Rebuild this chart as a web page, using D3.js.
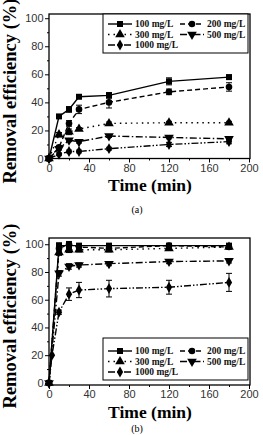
<!DOCTYPE html>
<html><head><meta charset="utf-8">
<script src="https://cdn.jsdelivr.net/npm/d3@7"></script>
<style>body{margin:0;background:#fff}svg{display:block}</style>
</head><body>
<script>
const seriesNames = ["100 mg/L","200 mg/L","300 mg/L","500 mg/L","1000 mg/L"];
const timesA = [0,10,20,30,60,120,180];
const valuesA = [
  [0,30,35,44,45,55,58],
  [0,8,25,35,40,47.5,51],
  [0,17,19,21,25,25.5,25.5],
  [0,7,13,12,16,15,14],
  [0,3,5,5,7,10,12]
];
const errorsA = [
  [0,1,2,1,2,2.5,1.5],
  [0,1,2,3,4,2,3],
  [0,1.5,2,1,1,1,1],
  [0,1,1,1,1,1,1],
  [0,1,1,1,1,1.5,1.5]
];
const timesB = [
  [0,10,20,30,60,120,180],
  [0,10,20,30,60,120,180],
  [0,10,20,30,60,120,180],
  [0,10,20,30,60,120,180],
  [0,3,10,20,30,60,120,180]
];
const valuesB = [
  [0,99,99,99,99,99,99],
  [0,97,100,98,97,99,98],
  [0,94,96,96,96,97,98],
  [0,79,84,85,86,87.5,88],
  [0,20,51,64,67,68,69,72.5]
];
const errorsB = [
  [0,2,2,1.5,1,1,1],
  [0,2,2,2,1.5,1,1],
  [0,2,2,1.5,1.5,1.5,1.5],
  [0,2,2,1.5,1.5,1.5,1.5],
  [0,0,1.5,4.5,5.5,6,5,6.5]
];
const xTicks = [0,40,80,120,160,200];
const yTicks = [0,20,40,60,80,100];
const dashes = [null,"5,3","1.5,4","7,2.5,1.5,2.5","7,2,1.5,2,1.5,2"];
const markers = [d3.symbolSquare,d3.symbolCircle,d3.symbolTriangle,"inv",d3.symbolDiamond];

const W=263,H=435;
const svg=d3.select("body").append("svg").attr("width",W).attr("height",H);

function marker(g,i,x,y){
  if(markers[i]==="inv"){
    g.append("path").attr("d",d3.symbol(d3.symbolTriangle,40)()).attr("transform",`translate(${x},${y}) rotate(180)`).attr("fill","#000");
  } else {
    const size = i===0?36:(i===1?34:(i===4?34:40));
    g.append("path").attr("d",d3.symbol(markers[i],size)()).attr("transform",`translate(${x},${y})`).attr("fill","#000");
  }
}

function panel(cfg){
  const x=d3.scaleLinear().domain([0,200]).range([cfg.left,cfg.right-1]);
  const y=d3.scaleLinear().domain(cfg.ydom).range([cfg.bottom,cfg.top]);
  const g=svg.append("g");
  const xa=g.append("g").attr("transform",`translate(0,${cfg.bottom})`)
    .call(d3.axisBottom(x).tickValues(xTicks).tickSize(4).tickPadding(1.5).tickSizeOuter(0));
  const xm=g.append("g").attr("transform",`translate(0,${cfg.bottom})`)
    .call(d3.axisBottom(x).tickValues([20,60,100,140,180]).tickSize(2).tickFormat("").tickSizeOuter(0));
  const ya=g.append("g").attr("transform",`translate(${cfg.left},0)`)
    .call(d3.axisLeft(y).tickValues(yTicks).tickSize(4).tickPadding(1.5).tickSizeOuter(0));
  const ym=g.append("g").attr("transform",`translate(${cfg.left},0)`)
    .call(d3.axisLeft(y).tickValues([10,30,50,70,90]).tickSize(2).tickFormat("").tickSizeOuter(0));
  [xa,xm,ya,ym].forEach(a=>{a.select(".domain").remove();a.selectAll("line").attr("stroke","#000").attr("stroke-width",1);
    a.selectAll("text").attr("font-family","Liberation Sans, Arial, sans-serif").attr("font-size",11).attr("fill","#333");});
  g.append("rect").attr("x",cfg.left).attr("y",cfg.top).attr("width",cfg.right-cfg.left).attr("height",cfg.bottom-cfg.top)
    .attr("fill","none").attr("stroke","#000").attr("stroke-width",1.3);
  const sg = g.append("g");
  cfg.values.forEach((vals,i)=>{
    const ts=cfg.times[i];
    const pts=vals.map((v,j)=>[ts[j],v,cfg.errors[i][j]]);
    const line=d3.line().x(d=>x(d[0])).y(d=>y(d[1]));
    sg.append("path").attr("d",line(pts)).attr("fill","none").attr("stroke","#000").attr("stroke-width",1.4)
      .attr("stroke-dasharray",dashes[i]);
    pts.forEach(p=>{
      if(p[2]>0){
        const xx=x(p[0]);
        sg.append("line").attr("x1",xx).attr("x2",xx).attr("y1",y(p[1]-p[2])).attr("y2",y(p[1]+p[2])).attr("stroke","#000").attr("stroke-width",1);
        [p[1]-p[2],p[1]+p[2]].forEach(e=>sg.append("line").attr("x1",xx-3).attr("x2",xx+3).attr("y1",y(e)).attr("y2",y(e)).attr("stroke","#000").attr("stroke-width",1));
      }
      marker(sg,i,x(p[0]),y(p[1]));
    });
  });
  const L=cfg.legend;
  const lg=g.append("g");
  lg.append("rect").attr("x",L.x).attr("y",L.y).attr("width",L.w).attr("height",L.h).attr("fill","#fff").attr("stroke","#000").attr("stroke-width",1);
  const pos=[[0,0],[1,0],[0,1],[1,1],[0,2]];
  seriesNames.forEach((n,i)=>{
    const cx=L.x+5+pos[i][0]*72, cy=L.y+L.r0+pos[i][1]*L.dr;
    lg.append("line").attr("x1",cx).attr("x2",cx+24).attr("y1",cy).attr("y2",cy).attr("stroke","#000").attr("stroke-width",1.4)
      .attr("stroke-dasharray",dashes[i]);
    marker(lg,i,cx+12,cy);
    lg.append("text").attr("x",cx+27).attr("y",cy+3.3).text(n)
      .attr("font-family","Liberation Serif, Times New Roman, serif").attr("font-weight","bold").attr("font-size",9.5).attr("fill","#111");
  });
  g.append("text").attr("transform",`translate(${cfg.ylabX},${cfg.ylabY}) rotate(-90)`).attr("text-anchor","middle")
    .text("Removal efficiency (%)").attr("font-family","Liberation Serif, Times New Roman, serif").attr("font-weight","bold").attr("font-size",18.5);
  g.append("text").attr("x",150).attr("y",cfg.xlabY).attr("text-anchor","middle")
    .text("Time (min)").attr("font-family","Liberation Serif, Times New Roman, serif").attr("font-weight","bold").attr("font-size",17.5);
  g.append("text").attr("x",137).attr("y",cfg.capY).attr("text-anchor","middle")
    .text(cfg.cap).attr("font-family","Liberation Serif, Times New Roman, serif").attr("font-size",10);
}

panel({left:49,right:250,top:14,bottom:158.5,ydom:[0,103],times:[timesA,timesA,timesA,timesA,timesA],values:valuesA,errors:errorsA,
  legend:{x:103,y:14,w:145,h:39,r0:10,dr:10.5},ylabX:16,ylabY:91,xlabY:191,capY:213,cap:"(a)"});
panel({left:49,right:250,top:238,bottom:385,ydom:[-1.5,104.5],times:timesB,values:valuesB,errors:errorsB,
  legend:{x:103,y:338,w:145,h:42,r0:13,dr:10.5},ylabX:16,ylabY:316,xlabY:418,capY:432,cap:"(b)"});
</script>
</body></html>
